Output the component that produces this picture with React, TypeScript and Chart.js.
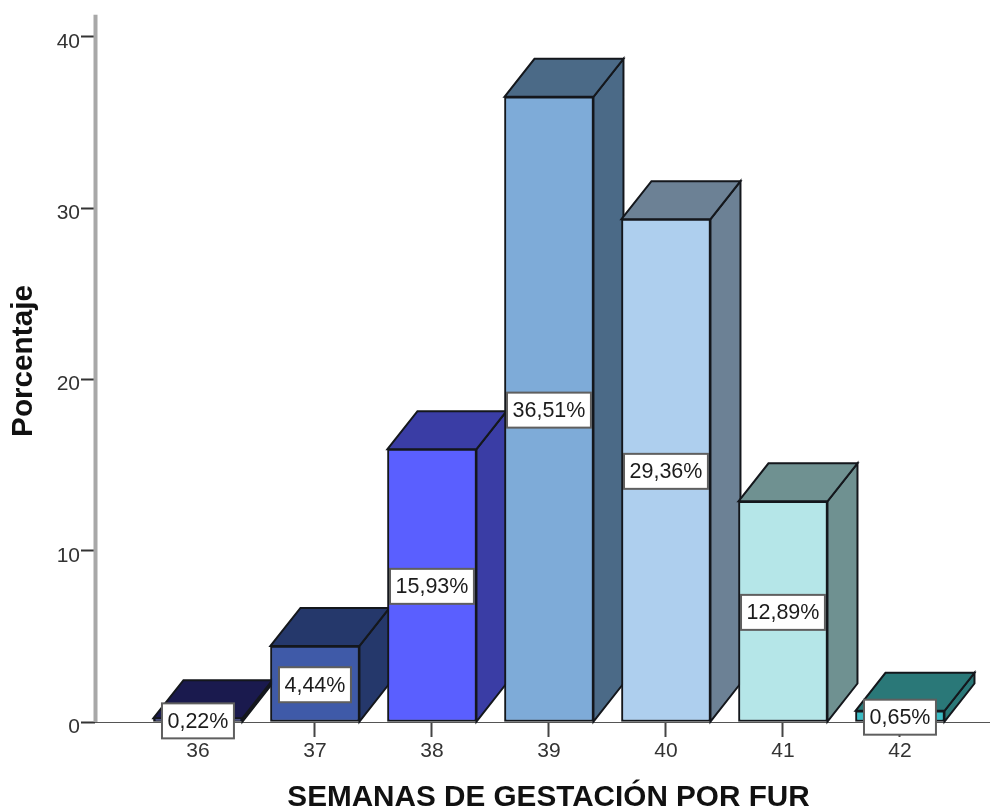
import React, { useEffect, useRef } from "react";
import { Chart, registerables } from "chart.js";

Chart.register(...registerables);

const weeks = [36, 37, 38, 39, 40, 41, 42];
const percentages = [0.22, 4.44, 15.93, 36.51, 29.36, 12.89, 0.65];
const frontColors = ["#2b3598", "#3f5aa8", "#5a5fff", "#7eabd8", "#aecfee", "#b5e6e8", "#3cbcc4"];
const sideColors = ["#1a1a4e", "#25386b", "#3a3da5", "#4b6a87", "#6c8195", "#6f9191", "#2a7878"];
const yTicks = [0, 10, 20, 30, 40];
const xTitle = "SEMANAS DE GESTACIÓN POR FUR";
const yTitle = "Porcentaje";

const FONT = '"Liberation Sans", Arial, sans-serif';
const OUTLINE = "#14171c";
const DEPTH_X = 30;
const DEPTH_Y = 38;

const fmt = (v: number) => v.toFixed(2).replace(".", ",") + "%";

const poly = (ctx: CanvasRenderingContext2D, pts: number[][], fill: string) => {
  ctx.beginPath();
  pts.forEach(([x, y], i) => (i ? ctx.lineTo(x, y) : ctx.moveTo(x, y)));
  ctx.closePath();
  ctx.fillStyle = fill;
  ctx.fill();
  ctx.lineWidth = 2;
  ctx.lineJoin = "miter";
  ctx.strokeStyle = OUTLINE;
  ctx.stroke();
};

const threeD = {
  id: "threeD",
  beforeDatasetsDraw(chart: any) {
    const { ctx, scales } = chart;
    ctx.save();
    ctx.fillStyle = "#a8a8a8";
    const top = scales.y.getPixelForValue(41.3);
    ctx.fillRect(scales.x.left - 1.5, top, 4, scales.y.bottom - top);
    chart.getDatasetMeta(0).data.forEach((bar: any, i: number) => {
      const l = bar.x - bar.width / 2;
      const r = bar.x + bar.width / 2;
      const t = bar.y;
      const b = bar.base;
      poly(ctx, [[r, t], [r + DEPTH_X, t - DEPTH_Y], [r + DEPTH_X, b - DEPTH_Y], [r, b]], sideColors[i]);
      poly(ctx, [[l, t], [l + DEPTH_X, t - DEPTH_Y], [r + DEPTH_X, t - DEPTH_Y], [r, t]], sideColors[i]);
    });
    ctx.restore();
  },
  afterDatasetsDraw(chart: any) {
    const { ctx } = chart;
    ctx.save();
    ctx.font = `21.5px ${FONT}`;
    ctx.textAlign = "center";
    ctx.textBaseline = "middle";
    chart.getDatasetMeta(0).data.forEach((bar: any, i: number) => {
      const cy = (bar.y + bar.base) / 2 + 1;
      const text = fmt(percentages[i]);
      const w = ctx.measureText(text).width + 11;
      const h = 35;
      ctx.fillStyle = "#ffffff";
      ctx.fillRect(bar.x - w / 2, cy - h / 2, w, h);
      ctx.lineWidth = 2;
      ctx.strokeStyle = "#5f5f5f";
      ctx.strokeRect(bar.x - w / 2, cy - h / 2, w, h);
      ctx.fillStyle = "#1c1c1c";
      ctx.fillText(text, bar.x, cy + 1);
    });
    ctx.restore();
  },
};

export default function App() {
  const ref = useRef<HTMLCanvasElement>(null);
  useEffect(() => {
    const chart = new Chart(ref.current!, {
      type: "bar",
      data: {
        datasets: [
          {
            data: weeks.map((w, i) => ({ x: w, y: percentages[i] })),
            backgroundColor: frontColors,
            borderColor: OUTLINE,
            borderWidth: 2,
            borderSkipped: false,
            barThickness: 89,
          },
        ],
      },
      options: {
        animation: false,
        responsive: false,
        plugins: { legend: { display: false }, tooltip: { enabled: false } },
        scales: {
          x: {
            type: "linear",
            offset: false,
            min: 35.12,
            max: 42.872,
            afterFit(s: any) { s.height = 88; s.paddingLeft = 0; s.paddingRight = 0; },
            afterBuildTicks(s: any) { s.ticks = weeks.map((value) => ({ value })); },
            border: { display: true, color: "#555555", width: 1 },
            grid: { offset: false, drawOnChartArea: false, drawTicks: true, tickLength: 15, tickColor: "#444444", tickWidth: 2 },
            ticks: { color: "#333333", font: { family: FONT, size: 21 }, padding: 2, maxRotation: 0, autoSkip: false, callback: (v: any) => String(v) },
            title: { display: true, text: xTitle, color: "#111111", font: { family: FONT, size: 29.7, weight: "bold" }, padding: { top: 10, bottom: -6 } },
          },
          y: {
            type: "linear",
            min: 0,
            max: 42.16,
            afterFit(s: any) { s.width = 95; s.paddingTop = 0; s.paddingBottom = 0; },
            afterBuildTicks(s: any) { s.ticks = yTicks.map((value) => ({ value })); },
            border: { display: false },
            grid: { drawOnChartArea: false, drawTicks: true, tickLength: 14, tickColor: "#333333", tickWidth: 2 },
            ticks: { color: "#333333", font: { family: FONT, size: 21 }, padding: 1, labelOffset: 5 },
            title: { display: true, text: yTitle, color: "#111111", font: { family: FONT, size: 29.7, weight: "bold" }, padding: { top: 6, bottom: 0 } },
          },
        },
      },
      plugins: [threeD],
    } as any);
    return () => chart.destroy();
  }, []);
  return (
    <div style={{ position: "absolute", left: 0, top: 0, width: 990, height: 810, overflow: "hidden", background: "#fff" }}>
      <canvas ref={ref} width={1002} height={810} style={{ display: "block", filter: "blur(0.5px)" }} />
    </div>
  );
}
